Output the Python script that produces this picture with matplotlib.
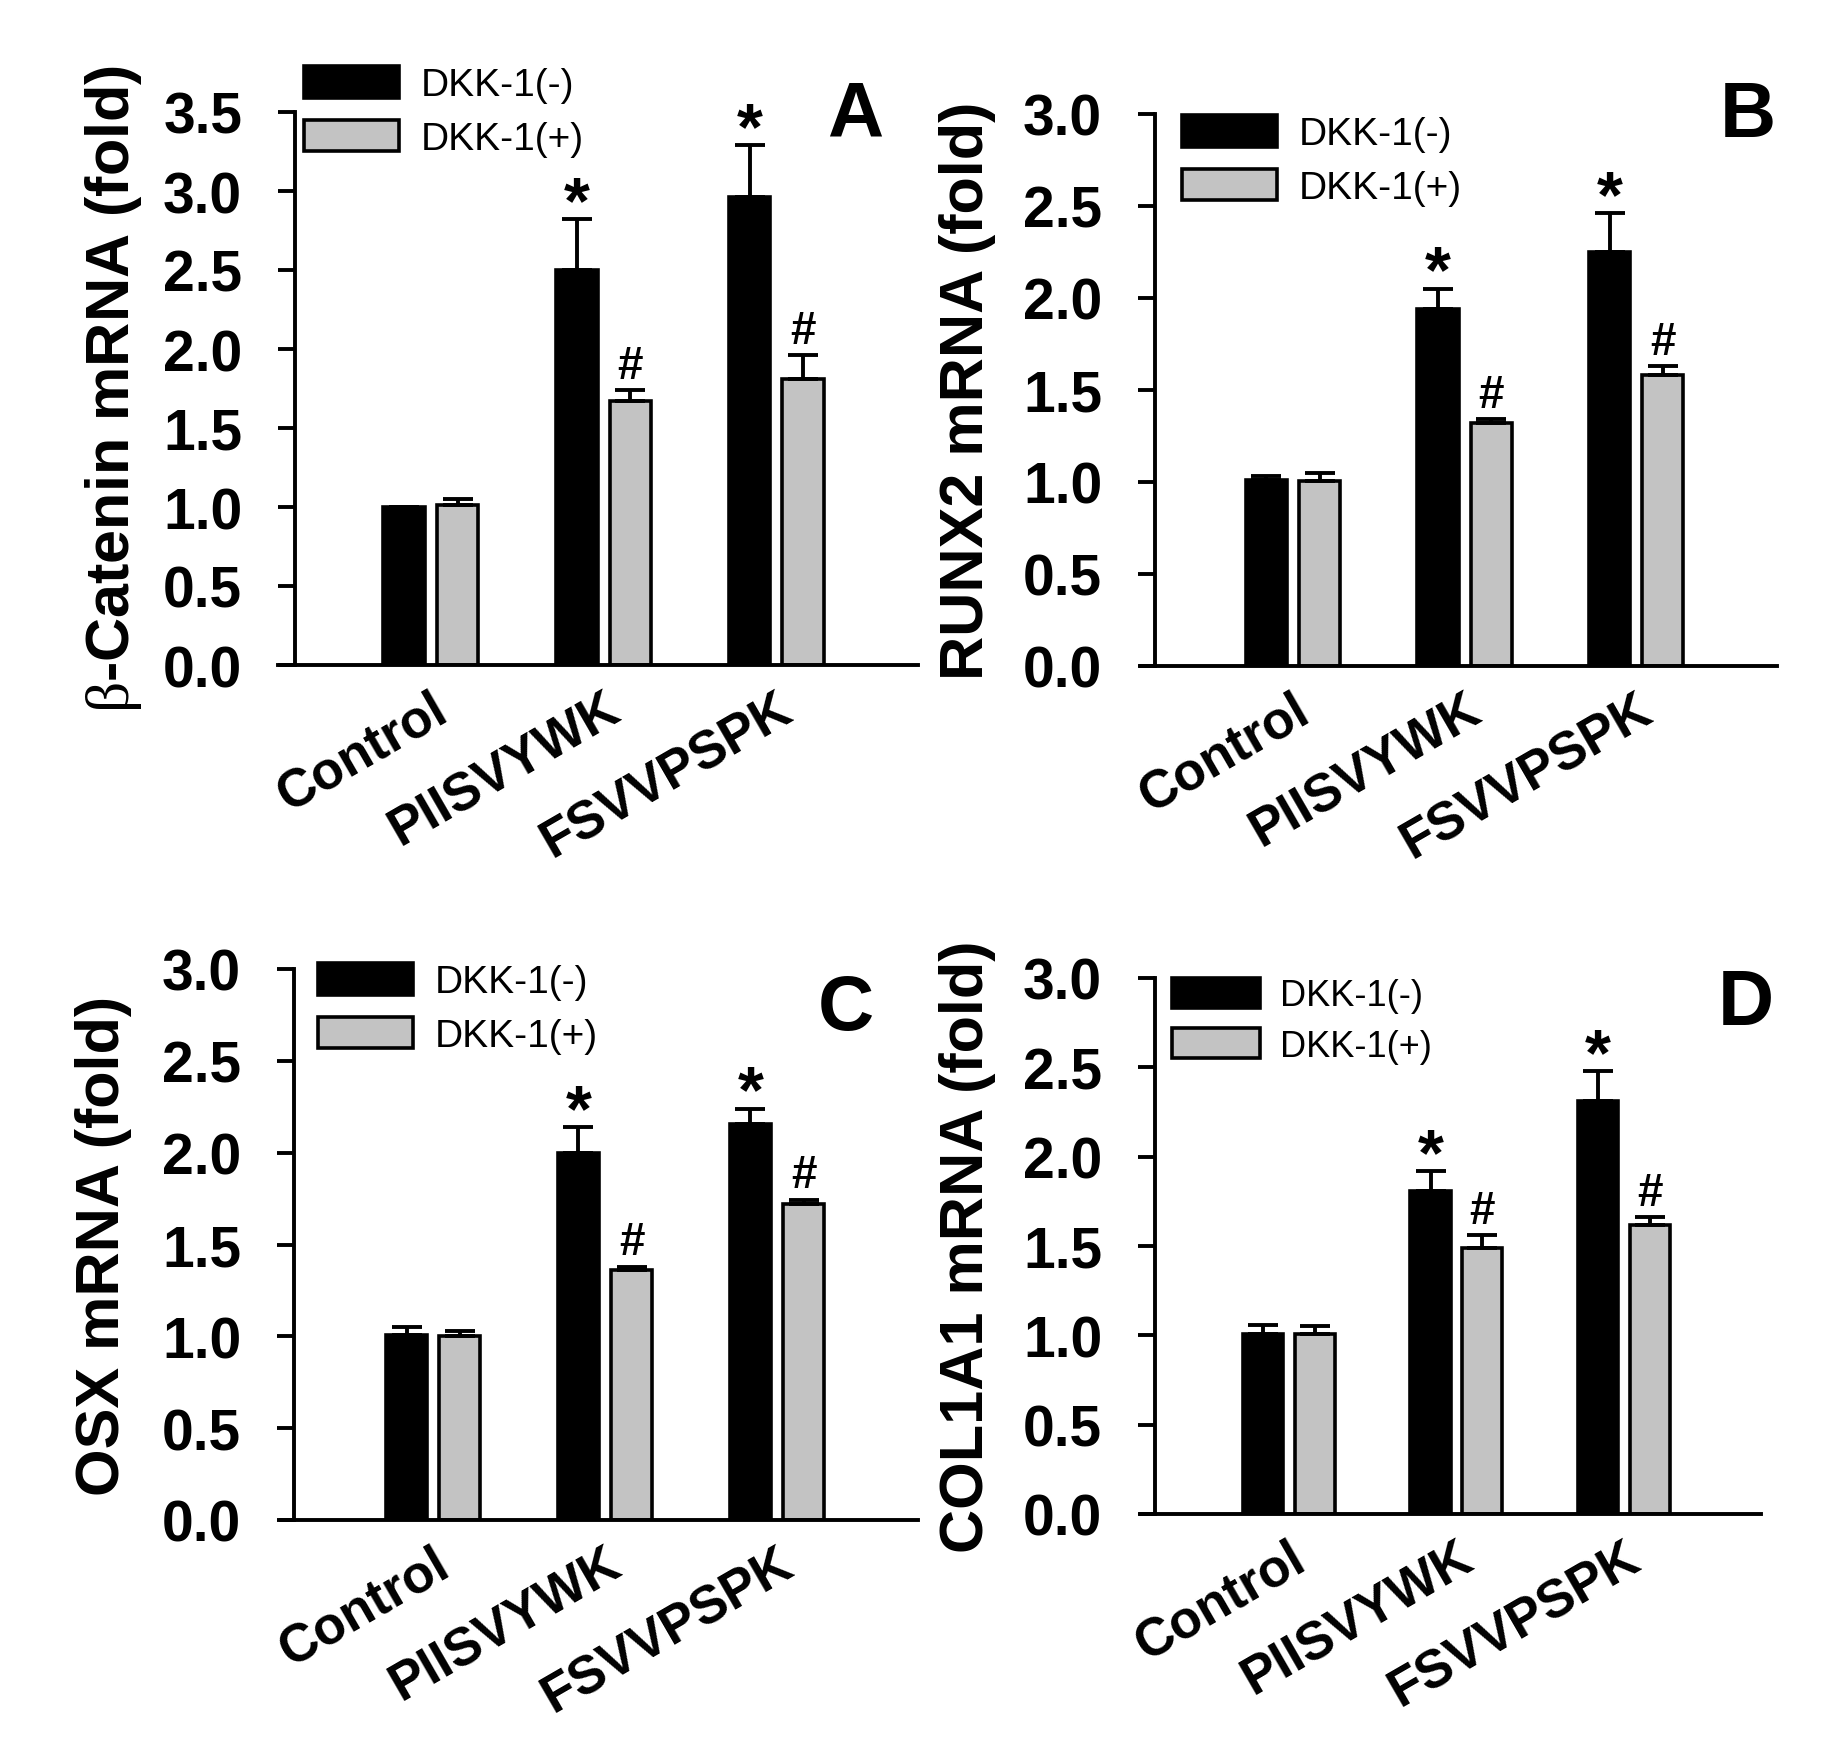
import numpy as np
import matplotlib.pyplot as plt
from matplotlib import transforms
from matplotlib.ticker import FormatStrFormatter

plt.rcParams['font.family'] = ['Liberation Sans', 'DejaVu Sans']
plt.rcParams['font.weight'] = 'bold'
plt.rcParams['axes.labelweight'] = 'bold'
# thin serif beta in the panel A label, like the symbol font of the original
plt.rcParams['mathtext.fontset'] = 'custom'
plt.rcParams['mathtext.rm'] = 'Liberation Serif:weight=normal'

groups = ['Control', 'PIISVYWK', 'FSVVPSPK']
series = ['DKK-1(-)', 'DKK-1(+)']
stars = ['', '*', '*']
hashes = ['', '#', '#']

# A: beta-catenin
a_minus = [1.00, 2.50, 2.96]
a_minus_err = [0.00, 0.32, 0.33]
a_plus = [1.01, 1.67, 1.81]
a_plus_err = [0.04, 0.07, 0.15]

# B: RUNX2
b_minus = [1.01, 1.94, 2.25]
b_minus_err = [0.025, 0.11, 0.21]
b_plus = [1.005, 1.32, 1.58]
b_plus_err = [0.045, 0.02, 0.05]

# C: OSX
c_minus = [1.005, 2.00, 2.155]
c_minus_err = [0.045, 0.14, 0.085]
c_plus = [1.00, 1.36, 1.72]
c_plus_err = [0.03, 0.02, 0.025]

# D: COL1A1
d_minus = [1.01, 1.81, 2.31]
d_minus_err = [0.05, 0.11, 0.17]
d_plus = [1.005, 1.49, 1.62]
d_plus_err = [0.045, 0.07, 0.04]

W, H = 1840, 1756
GREY = '#c3c3c3'
width, off = 0.24, 0.155

fig = plt.figure(figsize=(W / 100, H / 100), dpi=100)


def draw_panel(box, ylabel, ymax, minus, minus_err, plus, plus_err, letter, legsize):
    # box in pixels: left, right, top, bottom, y-spine x, ylabel right edge,
    # legend top-left x, y, letter x, letter baseline
    left, right, top, bottom, spx, labx, lgx, lgy, ltx, lty = box
    ax = fig.add_axes([left / W, 1 - bottom / H, (right - left) / W, (bottom - top) / H])
    x = np.arange(len(groups))

    ax.bar(x - off, minus, width, color='black', edgecolor='black', linewidth=2.6,
           label=series[0], zorder=2)
    ax.bar(x + off, plus, width, color=GREY, edgecolor='black', linewidth=2.6,
           label=series[1], zorder=2)
    ax.errorbar(x - off, minus, yerr=[np.zeros(len(x)), minus_err], fmt='none',
                ecolor='black', elinewidth=2.8, capsize=11, capthick=2.8, zorder=3)
    ax.errorbar(x + off, plus, yerr=[np.zeros(len(x)), plus_err], fmt='none',
                ecolor='black', elinewidth=2.8, capsize=11, capthick=2.8, zorder=3)

    for i in range(len(x)):
        if stars[i]:
            ax.annotate(stars[i], xy=(x[i] - off, minus[i] + minus_err[i]),
                        xytext=(0, -2), textcoords='offset points',
                        ha='center', va='baseline', fontsize=48)
        if hashes[i]:
            ax.annotate(hashes[i], xy=(x[i] + off, plus[i] + plus_err[i]),
                        xytext=(0, 9), textcoords='offset points',
                        ha='center', va='baseline', fontsize=33)

    ax.set_xlim(-0.885, 2.82)
    ax.set_ylim(0, ymax)
    ax.set_yticks(np.arange(0, ymax + 0.01, 0.5))
    ax.yaxis.set_major_formatter(FormatStrFormatter('%.1f'))
    ax.set_xticks(x)
    ax.set_xticklabels(groups, rotation=30, ha='right', va='top', rotation_mode='anchor')

    for s in ['top', 'right']:
        ax.spines[s].set_visible(False)
    for s in ['left', 'bottom']:
        ax.spines[s].set_linewidth(2.8)
    ax.spines['left'].set_position(('axes', (spx - left) / (right - left)))

    ax.tick_params(axis='y', direction='out', length=12, width=2.8, pad=26, labelsize=41)
    ax.tick_params(axis='x', length=0, pad=13, labelsize=38)

    ax.set_ylabel(ylabel, fontsize=44, fontweight='bold')
    ax.yaxis.set_label_coords(labx / W, 0.5,
                              transform=transforms.blended_transform_factory(fig.transFigure, ax.transAxes))

    ax.legend(loc='upper left', bbox_to_anchor=(lgx / W, 1 - lgy / H),
              bbox_transform=fig.transFigure, frameon=False, borderpad=0,
              borderaxespad=0, handlelength=2.45, handleheight=0.88,
              handletextpad=0.55, labelspacing=0.42,
              prop={'size': legsize, 'weight': 'normal'})

    fig.text(ltx / W, 1 - lty / H, letter, ha='center', va='baseline', fontsize=56,
             fontweight='bold')
    return ax


draw_panel((278, 918, 113, 666, 295, 144, 304, 67, 855, 137),
           r'$\mathrm{\beta}$-Catenin mRNA (fold)', 3.5,
           a_minus, a_minus_err, a_plus, a_plus_err, 'A', 28)
draw_panel((1141, 1777, 115, 667, 1155, 996, 1182, 116, 1748, 137),
           'RUNX2 mRNA (fold)', 3.0,
           b_minus, b_minus_err, b_plus, b_plus_err, 'B', 28)
draw_panel((281, 918, 970, 1521, 294, 132, 318, 964, 846, 1030),
           'OSX mRNA (fold)', 3.0,
           c_minus, c_minus_err, c_plus, c_plus_err, 'C', 28)
draw_panel((1141, 1761, 979, 1515, 1155, 996, 1172, 979, 1746, 1025),
           'COL1A1 mRNA (fold)', 3.0,
           d_minus, d_minus_err, d_plus, d_plus_err, 'D', 26)

fig.savefig('out.png', dpi=100)
